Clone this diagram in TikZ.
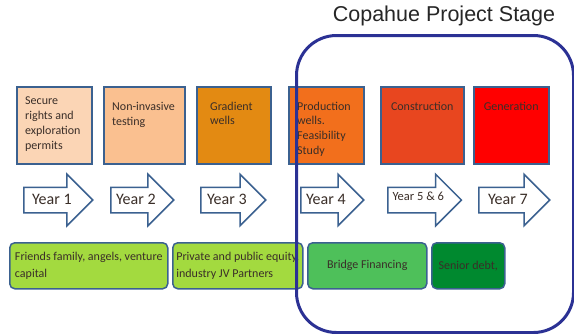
\documentclass[tikz,border=0pt]{standalone}
\usepackage{fontspec}
\setmainfont{Carlito}
\newfontfamily\titlefont{Liberation Sans}
\usetikzlibrary{shapes, shapes.arrows, positioning}

\definecolor{edgeblue}{HTML}{3B6190}
\definecolor{frameblue}{HTML}{2B3194}
\definecolor{darktext}{HTML}{3A2E28}
\definecolor{peachA}{HTML}{FBD5B5}
\definecolor{peachB}{HTML}{FAC090}
\definecolor{orangeA}{HTML}{E38A12}
\definecolor{orangeB}{HTML}{F26F1C}
\definecolor{redA}{HTML}{E8461F}
\definecolor{redB}{HTML}{FF0000}
\definecolor{greenA}{HTML}{A3DA3F}
\definecolor{greenB}{HTML}{4EC05A}
\definecolor{greenC}{HTML}{00892F}

\begin{document}
\begin{tikzpicture}[x=1pt, y=-1pt,
  stage/.style={rectangle, draw=edgeblue, line width=1.5pt, minimum height=77pt, anchor=north west, inner sep=0pt},
  stagetext/.style={font=\fontsize{12}{14.7}\selectfont, text=darktext, align=left, inner sep=0pt},
  yeararrow/.style={single arrow, draw=edgeblue, line width=1.5pt, fill=white, anchor=tail, font=\fontsize{16}{16}\selectfont, text=darktext, text height=11pt, text depth=3pt, inner ysep=5pt, inner xsep=4pt, single arrow head extend=13pt},
  fund/.style={rectangle, rounded corners=5pt, draw=edgeblue, line width=1.5pt, minimum height=46pt, anchor=north west, font=\fontsize{12}{17}\selectfont, text=darktext, align=left}]
\useasboundingbox (0,0) rectangle (574,333);

% stages
\node[stage, fill=peachA, minimum width=75pt] (stage1) at (16,86) {};
\node[stage, fill=peachB, minimum width=81pt] (stage2) at (103,86) {};
\node[stage, fill=orangeA, minimum width=74pt] (stage3) at (196,86) {};
\node[stage, fill=orangeB, minimum width=75pt] (stage4) at (288,86) {};
\node[stage, fill=redA, minimum width=83pt] (stage5) at (380,86) {};
\node[stage, fill=redB, minimum width=75pt] (stage6) at (473,86) {};

\node[stagetext, below right=11pt and 9pt of stage1.north west] (text1) {Secure\\rights and\\exploration\\permits};
\node[stagetext, below right=16pt and 9pt of stage2.north west] (text2) {Non-invasive\\testing};
\node[stagetext, below right=15.5pt and 14pt of stage3.north west] (text3) {Gradient\\wells};
\node[stagetext, below right=15.5pt and 9pt of stage4.north west] (text4) {Production\\wells.\\Feasibility\\Study};
\node[stagetext, below=15.5pt of stage5.north] (text5) {Construction};
\node[stagetext, below=15.5pt of stage6.north] (text6) {Generation};

% years
\node[yeararrow, minimum height=69pt] (year1) at (23,200) {Year 1};
\node[yeararrow, minimum height=63pt] (year2) at (110,200) {Year 2};
\node[yeararrow, minimum height=65pt] (year3) at (200,200) {Year 3};
\node[yeararrow, minimum height=63pt] (year4) at (300,200) {Year 4};
\node[yeararrow, minimum height=69pt, font=\fontsize{12.5}{12.5}\selectfont, text height=7pt, text depth=7pt] (year5) at (387,200) {Year 5 \& 6};
\node[yeararrow, minimum height=71pt] (year6) at (478,200) {Year 7};

% financing
\node[fund, fill=greenA, minimum width=158pt] (fund1) at (9,242) {Friends family, angels, venture\\capital};
\node[fund, fill=greenA, minimum width=130pt] (fund2) at (172,242) {Private and public equity,\\industry JV Partners};
\node[fund, fill=greenB, minimum width=119pt] (fund3) at (307,242) {Bridge Financing};
\node[fund, fill=greenC, minimum width=73pt] (fund4) at (431,242) {Senior debt,};

% project frame
\node[rectangle, draw=frameblue, line width=3pt, rounded corners=40pt, minimum width=277pt, minimum height=297pt, anchor=north west] (project) at (295,34) {};
\node[font=\titlefont\fontsize{21.5}{24}\selectfont, text=black!85] (title) at (444,16) {Copahue Project Stage};
\end{tikzpicture}
\end{document}
